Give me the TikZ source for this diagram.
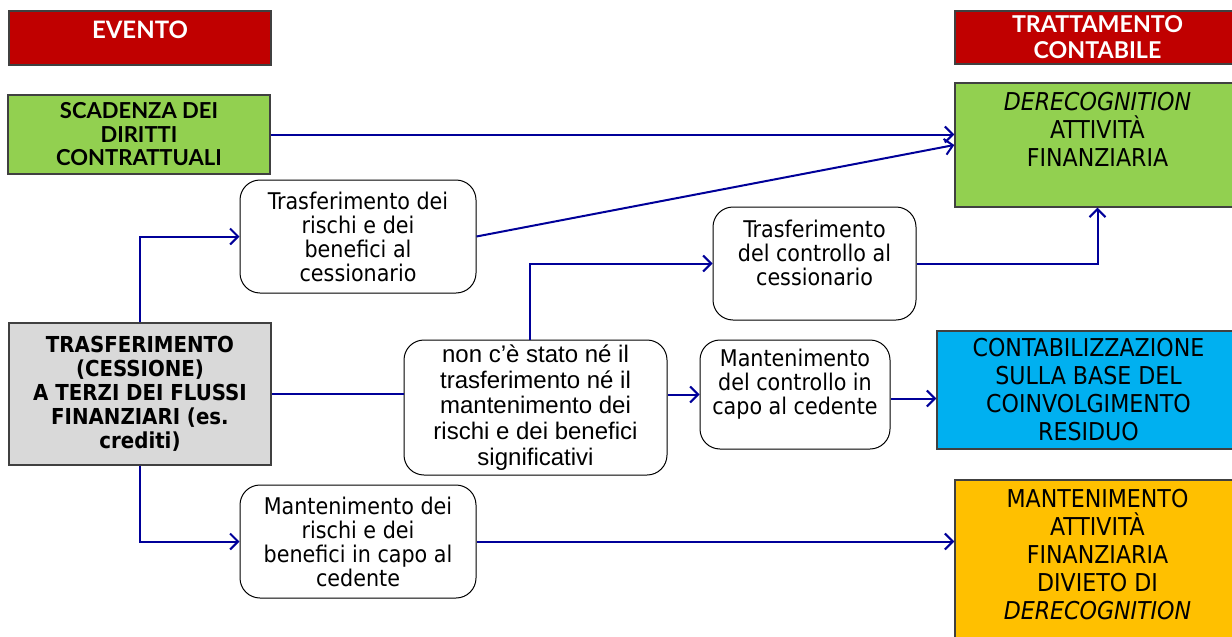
\documentclass[tikz,border=0pt]{standalone}
\usepackage{fontspec}
\setmainfont{DejaVu Sans Condensed}
\newfontfamily\latofont{Lato}
\newfontfamily\arialfont{Liberation Sans}
\usetikzlibrary{arrows.meta, positioning}
\usepackage{xcolor}
\definecolor{hdrred}{HTML}{C00000}
\definecolor{leafgreen}{HTML}{92D050}
\definecolor{boxgray}{HTML}{D9D9D9}
\definecolor{skyblue}{HTML}{00B0F0}
\definecolor{ambra}{HTML}{FFC000}
\definecolor{linkblue}{HTML}{000099}

\begin{document}
\begin{tikzpicture}[%
    x=0.5pt, y=-0.5pt,
    >={Straight Barb[length=4pt,width=8pt]},
    every node/.style={%
      align=center,
      text centered,
      inner sep=0pt
    },
    box/.style={draw=black!75, line width=0.7pt},
    hdr/.style={box, fill=hdrred, text=white,
      font=\latofont\bfseries\fontsize{11.6}{13}\selectfont},
    esito/.style={box, minimum width=142.5pt,
      font=\fontsize{12.3}{14}\selectfont},
    rbox/.style={draw=black, line width=0.5pt, rounded corners=10pt,
      fill=white, font=\fontsize{11.5}{12}\selectfont},
    link/.style={draw=linkblue, line width=1pt}
  ]
  \useasboundingbox (0,0) rectangle (1232,637);

  % Headers
  \node[hdr, minimum width=131pt, minimum height=27pt,
    label={[yshift=4pt, text=white, font=\latofont\bfseries\fontsize{12}{13}\selectfont]center:EVENTO}]
    (evento) at (140,38) {};
  \node[hdr, minimum width=142.5pt, minimum height=26.5pt]
    (trattamento) at (1097.5,37.5) {TRATTAMENTO\\CONTABILE};

  % Eventi
  \node[box, fill=leafgreen, minimum width=131pt, minimum height=39.5pt,
    font=\latofont\bfseries\fontsize{11}{11.75}\selectfont]
    (scadenza) at (139,134.5) {SCADENZA DEI\\DIRITTI\\CONTRATTUALI};
  \node[box, fill=boxgray, minimum width=131pt, minimum height=71pt,
    font=\bfseries\fontsize{11}{12}\selectfont]
    (cessione) at (140,394)
    {TRASFERIMENTO\\(CESSIONE)\\A TERZI DEI FLUSSI\\FINANZIARI (es.\\crediti)};

  % Condizioni
  \node[rbox, minimum width=118pt, minimum height=56.5pt]
    (rischi) at (358,236.5) {Trasferimento dei\\rischi e dei\\benefici al\\cessionario};
  \node[rbox, minimum width=131.5pt, minimum height=67.5pt,
    font=\arialfont\fontsize{12}{12.8}\selectfont]
    (nonce) at (535.5,407.5)
    {non c’è stato né il\\trasferimento né il\\mantenimento dei\\rischi e dei benefici\\significativi};
  \node[rbox, minimum width=101.5pt, minimum height=56.5pt,
    label={[yshift=5.5pt, font=\fontsize{11.5}{12}\selectfont, align=center]center:Trasferimento\\del controllo al\\cessionario}]
    (controllo) at (814.5,263.5) {};
  \node[rbox, minimum width=95pt, minimum height=54.5pt,
    label={[yshift=5pt, font=\fontsize{11.5}{12}\selectfont, align=center]center:Mantenimento\\del controllo in\\capo al cedente}]
    (mantctrl) at (795,394.5) {};
  \node[rbox, minimum width=118pt, minimum height=56.5pt]
    (mantrischi) at (358,541.5) {Mantenimento dei\\rischi e dei\\benefici in capo al\\cedente};

  % Trattamento contabile
  \node[esito, fill=leafgreen, minimum height=62pt,
    label={[yshift=8pt, font=\fontsize{12.3}{14}\selectfont, align=center]center:\textit{DERECOGNITION}\\ATTIVITÀ\\FINANZIARIA}]
    (derec) at (1097.5,145) {};
  \node[esito, fill=skyblue, minimum width=151.5pt, minimum height=59pt]
    (coinv) at (1088.5,390)
    {CONTABILIZZAZIONE\\SULLA BASE DEL\\COINVOLGIMENTO\\RESIDUO};
  \node[esito, fill=ambra, minimum height=85pt,
    label={[yshift=5pt, font=\fontsize{12.3}{14}\selectfont, align=center]center:MANTENIMENTO\\ATTIVITÀ\\FINANZIARIA\\DIVIETO DI\\\textit{DERECOGNITION}}]
    (divieto) at (1097.5,565) {};

  % Connectors
  \draw[link, ->] (scadenza.east) -- (scadenza.east -| derec.west);
  \draw[link, ->] (rischi.east) -- (derec.west);
  \draw[link, ->] (cessione.north) |- (rischi.west);
  \draw[link] (cessione.east) -- (cessione.east -| nonce.west);
  \draw[link, ->] ([xshift=-3pt]nonce.north) |- (controllo.west);
  \draw[link, ->] (mantctrl.west -| nonce.east) -- (mantctrl.west);
  \draw[link, ->] (controllo.east) -| (derec.south);
  \draw[link, ->] ([yshift=-2pt]mantctrl.east) -- ([yshift=-2pt]mantctrl.east -| coinv.west);
  \draw[link, ->] (cessione.south) |- (mantrischi.west);
  \draw[link, ->] (mantrischi.east) -- (mantrischi.east -| divieto.west);

\end{tikzpicture}
\end{document}
